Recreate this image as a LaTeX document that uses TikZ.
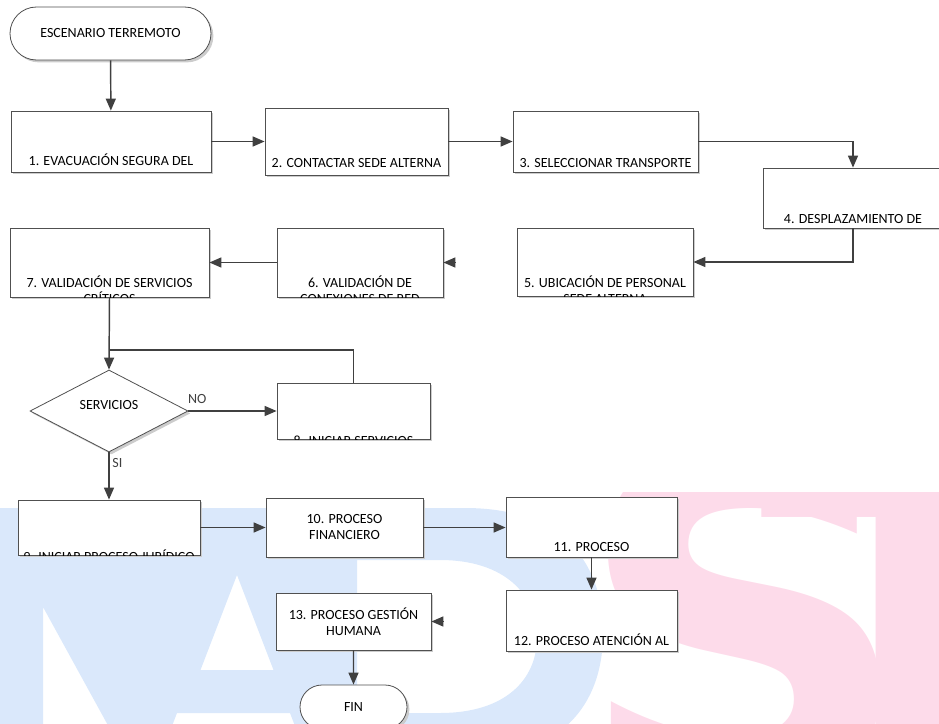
\documentclass[tikz,border=0pt]{standalone}
\usepackage{fontspec}
\setmainfont{Carlito}
\newfontfamily\wmfont{DejaVu Sans}
\usetikzlibrary{shapes.geometric, shapes.misc, arrows.meta, shadows}

\definecolor{linegray}{HTML}{404040}
\definecolor{boxgray}{HTML}{505050}
\definecolor{wmblue}{HTML}{DAE8FB}
\definecolor{wmpink}{HTML}{FDDBEA}

\newcommand{\boxfont}{\fontsize{10.5}{12}\selectfont}
% text that runs past the bottom of a box is cut off by the box
\newcommand{\cliptext}[4]{%
    \begin{scope}
        \clip (#1.south west) rectangle (#1.north east);
        \node [txt, anchor = base] at (#1.center |- 0,#2) {#3};
        \node [txt, anchor = base] at (#1.center |- 0,#2+16) {#4};
    \end{scope}}

\begin{document}
\begin{tikzpicture}[
    x = 0.75pt, y = -0.75pt,
    txt/.style = {
        inner sep = 0pt,
        font = \boxfont
    },
    block/.style = {
        rectangle,
        draw = boxgray,
        line width = 0.6pt,
        fill = white,
        inner sep = 0pt,
        align = center,
        font = \boxfont,
        drop shadow = {shadow xshift = 1.8pt, shadow yshift = -1.8pt, fill = black!20, opacity = 1}
    },
    term/.style = {
        block,
        rounded rectangle
    },
    decision/.style = {
        block,
        diamond
    },
    arrow/.style = {
        -{Triangle[length = 9pt, width = 7.5pt]},
        line width = 1.1pt,
        linegray
    },
    line/.style = {
        line width = 1.1pt,
        linegray
    },
    lbl/.style = {
        inner sep = 2pt,
        font = \boxfont
    },
    wm/.style = {
        inner sep = 0pt,
        font = \wmfont\bfseries\fontsize{354}{354}\selectfont
    }
]
    \useasboundingbox (0,0) rectangle (939,724);

    % Watermark
    \fill [wmblue, even odd rule]
        (0,508) -- (465,508) .. controls (560,508) and (603,560) .. (603,633)
            .. controls (603,706) and (560,758) .. (465,758) -- (0,758) -- cycle
        (43,607) -- (127,760) -- (43,760) -- cycle
        (237,575) -- (273.5,670) -- (200.5,670) -- cycle
        (177,713) -- (290,713) -- (308,760) -- (159,760) -- cycle
        (357,560) -- (440,560) .. controls (505,560) and (537,595) .. (537,637)
            .. controls (537,680) and (505,713) .. (440,713) -- (357,713) -- cycle;
    \begin{scope}
        \clip (0,492) rectangle (939,724);
        \node [wm, text = wmpink, anchor = base west] (wms) at (574,794) {S};
        \node [wm, text = wmpink, anchor = base west] (wmt) at (759,794) {T};
    \end{scope}

    % Nodes
    \node [term, minimum width = 150.75pt, minimum height = 39.75pt] (start) at (110.5,33.5) {ESCENARIO TERREMOTO};
    \node [block, minimum width = 150pt, minimum height = 45.75pt] (b1) at (111,141.5) {};
    \node [block, minimum width = 137.25pt, minimum height = 50.25pt] (b2) at (356.5,141.5) {};
    \node [block, minimum width = 138.75pt, minimum height = 45.75pt] (b3) at (605.5,141.5) {};
    \node [block, minimum width = 135pt, minimum height = 45pt] (b4) at (853,198) {};
    \node [block, minimum width = 132pt, minimum height = 51pt] (b5) at (605,262) {};
    \node [block, minimum width = 124.5pt, minimum height = 51.75pt] (b6) at (360,262.5) {};
    \node [block, minimum width = 149.25pt, minimum height = 51.75pt] (b7) at (109.5,262.5) {};
    \node [decision, minimum width = 118.5pt, minimum height = 61.5pt,
           label = {[lbl, yshift = 4.5pt]center:SERVICIOS}] (dec) at (109,411) {};
    \node [block, minimum width = 114.75pt, minimum height = 42pt] (b8) at (353.5,411) {};
    \node [block, minimum width = 136.5pt, minimum height = 41.25pt] (b9) at (109,527.5) {};
    \node [block, minimum width = 117.75pt, minimum height = 44.25pt] (b10) at (344.5,527.5) {10. PROCESO\\FINANCIERO};
    \node [block, minimum width = 128.25pt, minimum height = 45pt] (b11) at (591.5,527) {};
    \node [block, minimum width = 128.25pt, minimum height = 45.75pt] (b12) at (591.5,620.5) {};
    \node [block, minimum width = 116.25pt, minimum height = 42.75pt] (b13) at (353.5,621.5) {13. PROCESO GESTIÓN\\HUMANA};
    \node [term, minimum width = 80.25pt, minimum height = 33pt] (fin) at (353.5,707) {FIN};
    \coordinate (jn) at (109,350);

    % Box texts
    \cliptext{b1}{165.5}{1. EVACUACIÓN SEGURA DEL}{}
    \cliptext{b2}{167.5}{2. CONTACTAR SEDE ALTERNA}{}
    \cliptext{b3}{167.5}{3. SELECCIONAR TRANSPORTE}{}
    \cliptext{b4}{223.5}{4. DESPLAZAMIENTO DE}{}
    \cliptext{b5}{287.5}{5. UBICACIÓN DE PERSONAL}{SEDE ALTERNA}
    \cliptext{b6}{287.5}{6. VALIDACIÓN DE}{CONEXIONES DE RED}
    \cliptext{b7}{287.5}{7. VALIDACIÓN DE SERVICIOS}{CRÍTICOS}
    \cliptext{b8}{445}{8. INICIAR SERVICIOS}{}
    \cliptext{b9}{561}{9. INICIAR PROCESO JURÍDICO}{}
    \cliptext{b11}{551.5}{11. PROCESO}{}
    \cliptext{b12}{645.5}{12. PROCESO ATENCIÓN AL}{}

    % Arrows
    \draw [arrow] (start) -- (b1);
    \draw [arrow] (b1) -- (b2);
    \draw [arrow] (b2) -- (b3);
    \draw [arrow] (b3.east) -| (b4.north);
    \draw [arrow] (b4.south) |- (b5.east);
    \draw [arrow] ([xshift = 9pt]b6.east) -- (b6.east);
    \draw [arrow] (b6) -- (b7);
    \draw [arrow] (b7.south) -- (dec.north);
    \draw [line] (b8.north) |- (jn);
    \draw [arrow] (dec.east) -- node [lbl, pos = 0.1, above = 3pt] {NO} (b8.west);
    \draw [arrow] (dec.south) -- node [lbl, pos = 0.23, right] {SI} (b9.north);
    \draw [arrow] (b9.east) -- (b9.east -| b10.west);
    \draw [arrow] (b10.east) -- (b10.east -| b11.west);
    \draw [arrow] (b11) -- (b12);
    \draw [arrow] ([xshift = 9pt]b13.east) -- (b13.east);
    \draw [arrow] (b13) -- (fin);

\end{tikzpicture}
\end{document}
